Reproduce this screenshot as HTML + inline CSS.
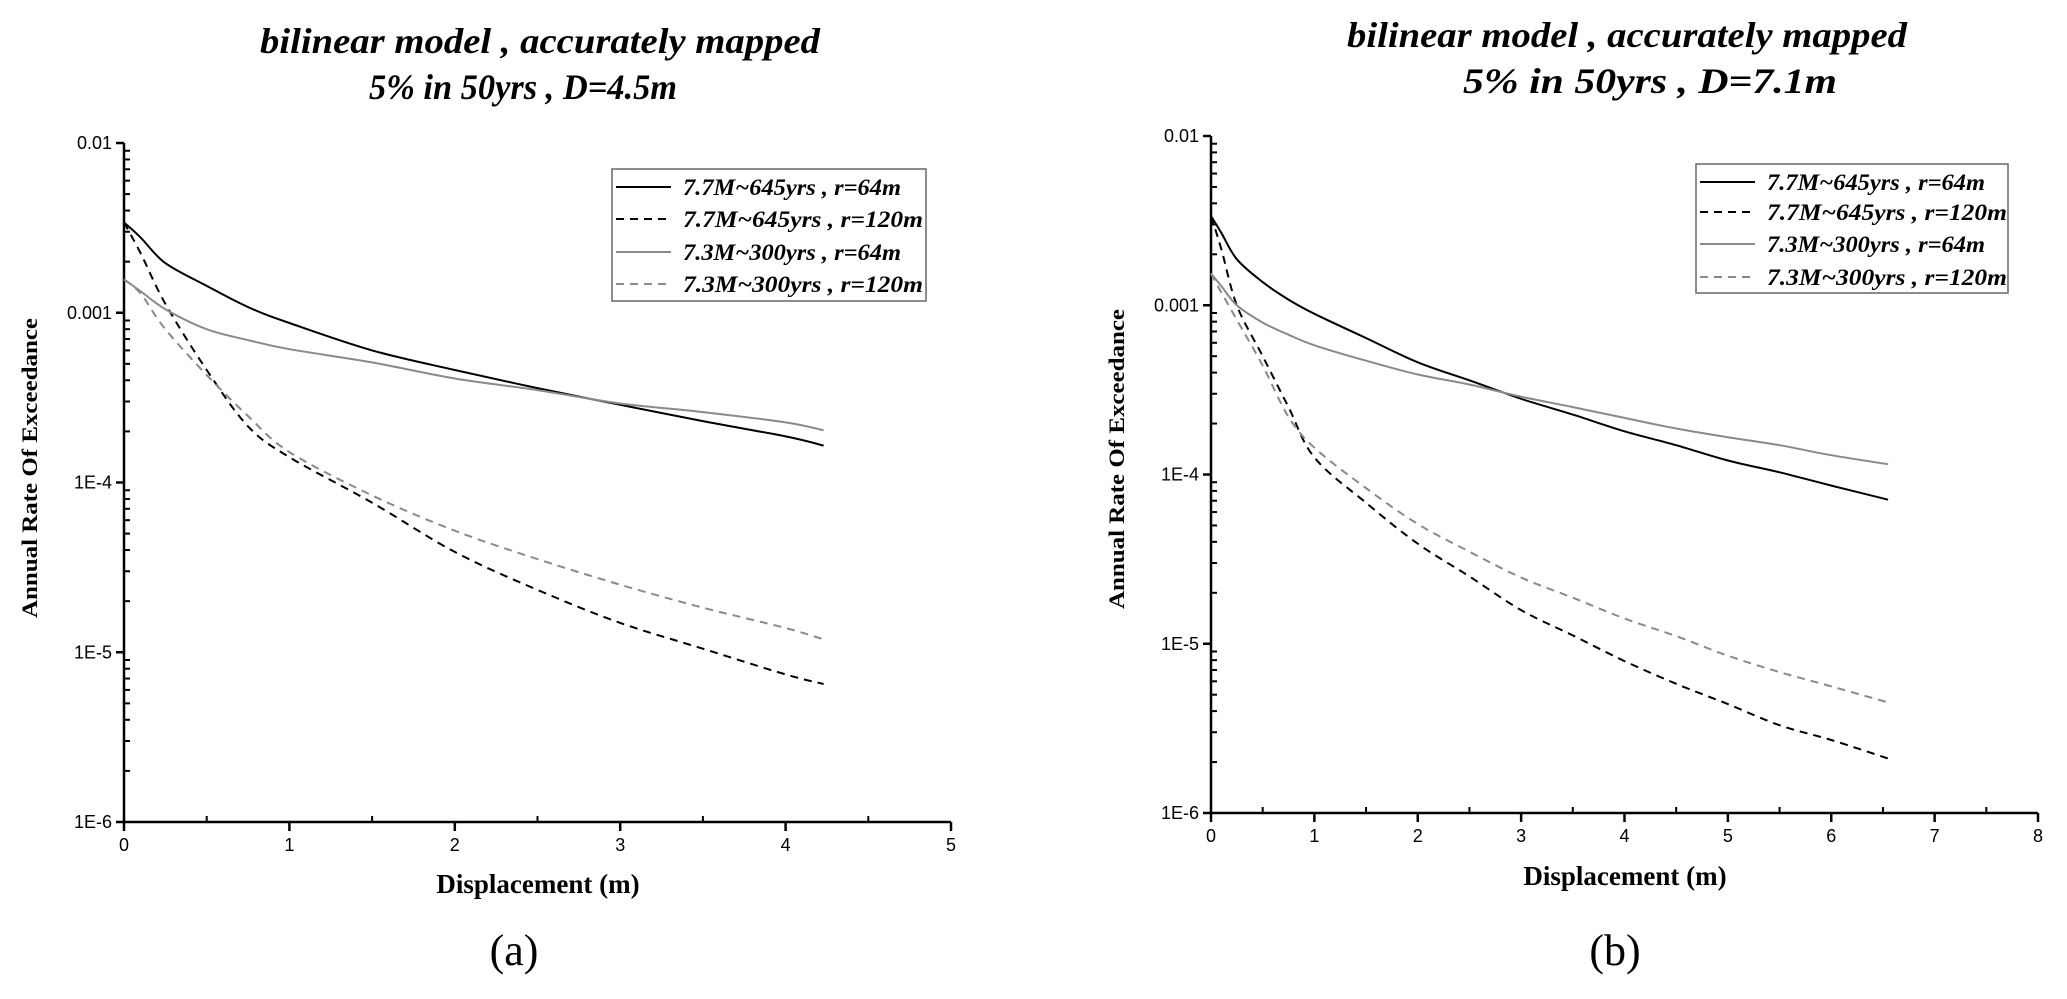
<!DOCTYPE html>
<html><head><meta charset="utf-8"><style>
html,body{margin:0;padding:0;background:#fff;}
svg{display:block;}
</style></head><body>
<svg id="fig" width="2067" height="999" viewBox="0 0 2067 999" xmlns="http://www.w3.org/2000/svg"></svg>
<script>
// ---- Data: panel (a) ----
const xA = [0,0.1,0.25,0.5,0.75,1,1.5,2,2.5,3,3.5,4,4.23];
const a_blackSolid = [0.0034,0.00278,0.00196,0.00144,0.00108,8.7e-4,6.0e-4,4.6e-4,3.6e-4,2.87e-4,2.3e-4,1.87e-4,1.65e-4];
const a_blackDash  = [0.0034,0.00225,0.00113,4.6e-4,2.14e-4,1.41e-4,7.6e-5,3.9e-5,2.33e-5,1.49e-5,1.05e-5,7.4e-6,6.5e-6];
const a_graySolid  = [0.00157,0.00134,0.00105,8.0e-4,6.9e-4,6.1e-4,5.1e-4,4.1e-4,3.5e-4,2.92e-4,2.6e-4,2.26e-4,2.03e-4];
const a_grayDash   = [0.00157,0.0013,0.0008,4.3e-4,2.46e-4,1.51e-4,8.4e-5,5.2e-5,3.54e-5,2.5e-5,1.83e-5,1.39e-5,1.19e-5];
// ---- Data: panel (b) ----
const xB = [0,0.1,0.25,0.5,0.75,1,1.5,2,2.5,3,3.5,4,4.5,5,5.5,6,6.55];
const b_blackSolid = [0.00337,0.00268,0.00187,0.00137,0.00108,8.9e-4,6.4e-4,4.6e-4,3.6e-4,2.8e-4,2.26e-4,1.8e-4,1.49e-4,1.21e-4,1.03e-4,8.6e-5,7.1e-5];
const b_blackDash  = [0.00337,0.00215,1.0e-3,5.0e-4,2.5e-4,1.26e-4,6.8e-5,3.9e-5,2.5e-5,1.58e-5,1.12e-5,7.9e-6,5.8e-6,4.4e-6,3.3e-6,2.7e-6,2.1e-6];
const b_graySolid  = [0.00154,0.0013,0.001,7.9e-4,6.7e-4,5.8e-4,4.7e-4,3.9e-4,3.4e-4,2.88e-4,2.5e-4,2.16e-4,1.87e-4,1.66e-4,1.49e-4,1.3e-4,1.15e-4];
const b_grayDash   = [0.00154,0.00119,8.2e-4,4.4e-4,2.19e-4,1.44e-4,8.3e-5,5.1e-5,3.5e-5,2.46e-5,1.87e-5,1.41e-5,1.11e-5,8.5e-6,6.8e-6,5.6e-6,4.5e-6];
const yTickLabels = ["1E-6","1E-5","1E-4","0.001","0.01"];
const seriesNames = ["7.7M~645yrs , r=64m","7.7M~645yrs , r=120m","7.3M~300yrs , r=64m","7.3M~300yrs , r=120m"];

const NS="http://www.w3.org/2000/svg";
const svg=document.getElementById('fig');
function mk(tag,attrs,parent,text){
  const e=document.createElementNS(NS,tag);
  for(const k in attrs) e.setAttribute(k,attrs[k]);
  if(text!==undefined) e.textContent=text;
  (parent||svg).appendChild(e);
  return e;
}
const styles=[
  {stroke:"#000",dash:null,w:2},
  {stroke:"#000",dash:"8,6",w:2},
  {stroke:"#8a8a8a",dash:null,w:2},
  {stroke:"#8a8a8a",dash:"8,6",w:2}
];
function smoothPath(pts){
  let d='M'+pts[0][0].toFixed(1)+','+pts[0][1].toFixed(1);
  for(let i=0;i<pts.length-1;i++){
    const p0=pts[Math.max(0,i-1)],p1=pts[i],p2=pts[i+1],p3=pts[Math.min(pts.length-1,i+2)];
    const c1=[p1[0]+(p2[0]-p0[0])/6,p1[1]+(p2[1]-p0[1])/6];
    const c2=[p2[0]-(p3[0]-p1[0])/6,p2[1]-(p3[1]-p1[1])/6];
    d+=` C${c1[0].toFixed(1)},${c1[1].toFixed(1)} ${c2[0].toFixed(1)},${c2[1].toFixed(1)} ${p2[0].toFixed(1)},${p2[1].toFixed(1)}`;
  }
  return d;
}
function panel(cfg){
  const g=mk('g',{});
  
  
  const X=v=>cfg.x0+(v-0)/(cfg.xmax)*(cfg.x1-cfg.x0);
  const Y=v=>cfg.yb-(Math.log10(v)+6)/4*(cfg.yb-cfg.yt);
  const t1=mk('text',{x:(cfg.t1a+cfg.t1b)/2,y:cfg.t1y,'text-anchor':'middle','font-family':'Liberation Serif, serif','font-weight':'bold','font-style':'italic','font-size':36,textLength:cfg.t1b-cfg.t1a,lengthAdjust:'spacingAndGlyphs'},g,cfg.title1);
  
  
  const t2=mk('text',{x:(cfg.t2a+cfg.t2b)/2,y:cfg.t2y,'text-anchor':'middle','font-family':'Liberation Serif, serif','font-weight':'bold','font-style':'italic','font-size':36,textLength:cfg.t2b-cfg.t2a,lengthAdjust:'spacingAndGlyphs'},g,cfg.title2);
  
  
  const ax=mk('path',{d:`M${cfg.x0},${cfg.yt} V${cfg.yb} H${cfg.x1}`,fill:'none',stroke:'#000','stroke-width':2.5},g);
  
  
  for(let d=-6;d<=-2;d++){
    const yy=Y(Math.pow(10,d));
    mk('line',{x1:cfg.x0-8,x2:cfg.x0,y1:yy,y2:yy,stroke:'#000','stroke-width':2.5},g);
    const lb=mk('text',{x:cfg.x0-12,y:yy+6,'text-anchor':'end','font-family':'Liberation Sans, sans-serif','font-size':18},g,yTickLabels[d+6]);
    
    
    if(d<-2){for(let m=2;m<=9;m++){const ym=Y(m*Math.pow(10,d));mk('line',{x1:cfg.x0,x2:cfg.x0+6,y1:ym,y2:ym,stroke:'#000','stroke-width':2},g);}}
  }
  for(let v=0;v<=cfg.xmax;v+=0.5){
    const xx=X(v);
    if(v%1===0){
      mk('line',{x1:xx,x2:xx,y1:cfg.yb,y2:cfg.yb+9,stroke:'#000','stroke-width':2.5},g);
      const lb=mk('text',{x:xx,y:cfg.yb+29,'text-anchor':'middle','font-family':'Liberation Sans, sans-serif','font-size':18},g,String(v));
      
      
    } else mk('line',{x1:xx,x2:xx,y1:cfg.yb,y2:cfg.yb-6,stroke:'#000','stroke-width':2},g);
  }
  const xt=mk('text',{x:cfg.xtx,y:cfg.xty,'text-anchor':'middle','font-family':'Liberation Serif, serif','font-weight':'bold','font-size':27},g,'Displacement (m)');
  
  
  const yt=mk('text',{x:0,y:0,transform:`translate(${cfg.ytx},${cfg.yty}) rotate(-90)`,'text-anchor':'middle','font-family':'Liberation Serif, serif','font-weight':'bold','font-size':22,textLength:300,lengthAdjust:'spacingAndGlyphs'},g,'Annual Rate Of Exceedance');
  
  
  cfg.series.forEach((s,i)=>{
    const pts=s.map((v,j)=>[X(cfg.xs[j]),Y(v)]);
    const p=mk('path',{d:smoothPath(pts),fill:'none',stroke:styles[i].stroke,'stroke-width':styles[i].w},g);
    if(styles[i].dash) p.setAttribute('stroke-dasharray',styles[i].dash);
    
    
  });
  const L=cfg.leg;
  const lg=mk('g',{},g);
  
  
  mk('rect',{x:L.x,y:L.y,width:L.w,height:L.h,fill:'#fff',stroke:'#666','stroke-width':1.5},lg);
  seriesNames.forEach((n,i)=>{
    const ry=L.rows[i];
    const ln=mk('line',{x1:L.x+4,x2:L.x+59,y1:ry,y2:ry,stroke:styles[i].stroke,'stroke-width':2},lg);
    if(styles[i].dash) ln.setAttribute('stroke-dasharray',styles[i].dash);
    const tx=mk('text',{x:L.x+71,y:ry+8,'font-family':'Liberation Serif, serif','font-weight':'bold','font-style':'italic','font-size':23,textLength:(i%2?240:218),lengthAdjust:'spacingAndGlyphs'},lg,n);
    
    
  });
  const pl=mk('text',{x:cfg.plx,y:965,'text-anchor':'middle','font-family':'Liberation Serif, serif','font-size':44},g,cfg.plabel);
  
  
}
panel({id:'panel-a',x0:124,x1:951,xmax:5,yt:143,yb:822,xs:xA,
  series:[a_blackSolid,a_blackDash,a_graySolid,a_grayDash],
  title1:'bilinear model , accurately mapped',title2:'5% in 50yrs , D=4.5m',
  t1a:260,t1b:820,t1y:53,t2a:369,t2b:677,t2y:99,
  xtx:538,xty:893,ytx:37,yty:468,
  leg:{x:612,y:169,w:314,h:132,rows:[187,219,252,284]},plx:514,plabel:'(a)'});
panel({id:'panel-b',x0:1211,x1:2038,xmax:8,yt:136,yb:813,xs:xB,
  series:[b_blackSolid,b_blackDash,b_graySolid,b_grayDash],
  title1:'bilinear model , accurately mapped',title2:'5% in 50yrs , D=7.1m',
  t1a:1347,t1b:1907,t1y:47,t2a:1463,t2b:1837,t2y:93,
  xtx:1625,xty:885,ytx:1124,yty:459,
  leg:{x:1696,y:164,w:312,h:129,rows:[182,212,244,277]},plx:1615,plabel:'(b)'});
</script>
</body></html>
